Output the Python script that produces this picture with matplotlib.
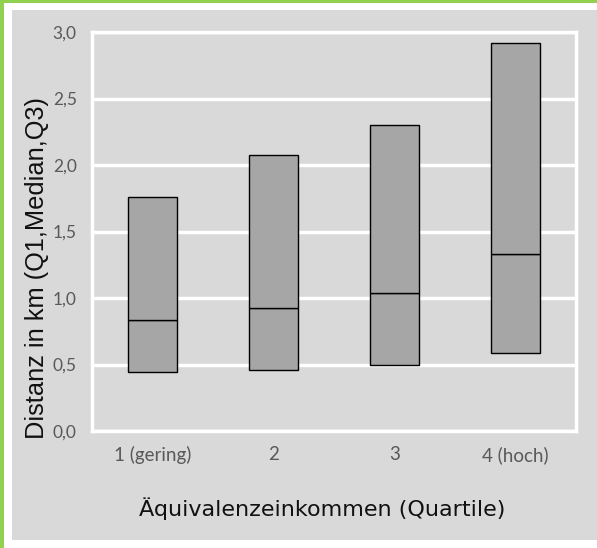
import numpy as np
import matplotlib.pyplot as plt
from matplotlib.patches import Rectangle

# Quartile groups and distance quartiles (km)
categories = ['1 (gering)', '2', '3', '4 (hoch)']
q1 = [0.44, 0.46, 0.50, 0.59]
median = [0.835, 0.925, 1.035, 1.33]
q3 = [1.76, 2.075, 2.30, 2.92]

fig = plt.figure(figsize=(5.97, 5.48), dpi=100, facecolor='white')

# grey panel with green frame edge, like the original slide
fig.patches.append(Rectangle((12 / 597, 8 / 548), 1 - 12 / 597, 1 - 18 / 548,
                             transform=fig.transFigure, facecolor='#d9d9d9',
                             edgecolor='none', zorder=0))
fig.patches.append(Rectangle((0, 0), 4 / 597, 1, transform=fig.transFigure,
                             facecolor='#92d050', edgecolor='none', zorder=0))
fig.patches.append(Rectangle((0, 1 - 3 / 548), 1, 3 / 548, transform=fig.transFigure,
                             facecolor='#92d050', edgecolor='none', zorder=0))

ax = fig.add_axes([92 / 597, 1 - 431 / 548, 484 / 597, 399 / 548])
ax.set_zorder(2)
ax.set_facecolor('#d9d9d9')

x = np.arange(len(categories))
q1 = np.array(q1)
median = np.array(median)
q3 = np.array(q3)

ax.bar(x, median - q1, bottom=q1, width=0.4, color='#a6a6a6',
       edgecolor='black', linewidth=1, zorder=3)
ax.bar(x, q3 - median, bottom=median, width=0.4, color='#a6a6a6',
       edgecolor='black', linewidth=1, zorder=3)

ax.set_xlim(-0.5, 3.5)
ax.set_ylim(0, 3.0)
ax.set_yticks(np.arange(0, 3.01, 0.5))
ax.set_yticklabels([f'{v:.1f}'.replace('.', ',') for v in np.arange(0, 3.01, 0.5)])
ax.set_xticks(x)
ax.set_xticklabels(categories)

ax.grid(axis='y', color='white', linewidth=2.5, zorder=1)
for s in ax.spines.values():
    s.set_color('white')
    s.set_linewidth(2.5)

ax.tick_params(axis='both', length=0, colors='#595959')
ax.tick_params(axis='y', pad=11, labelsize=12.5)
ax.tick_params(axis='x', pad=11, labelsize=13.5)
for lab in ax.get_xticklabels() + ax.get_yticklabels():
    lab.set_fontfamily('Lato')

fig.text(37 / 597, 1 - 268 / 548, 'Distanz in km (Q1,Median,Q3)', rotation=90,
         ha='center', va='center', fontsize=18.3, family='Liberation Sans', color='#111111',
         zorder=3)
fig.text(322 / 597, 1 - 509 / 548, 'Äquivalenzeinkommen (Quartile)',
         ha='center', va='center', fontsize=16, family='DejaVu Sans', color='#111111',
         zorder=3)

plt.savefig('out.png', dpi=100)
